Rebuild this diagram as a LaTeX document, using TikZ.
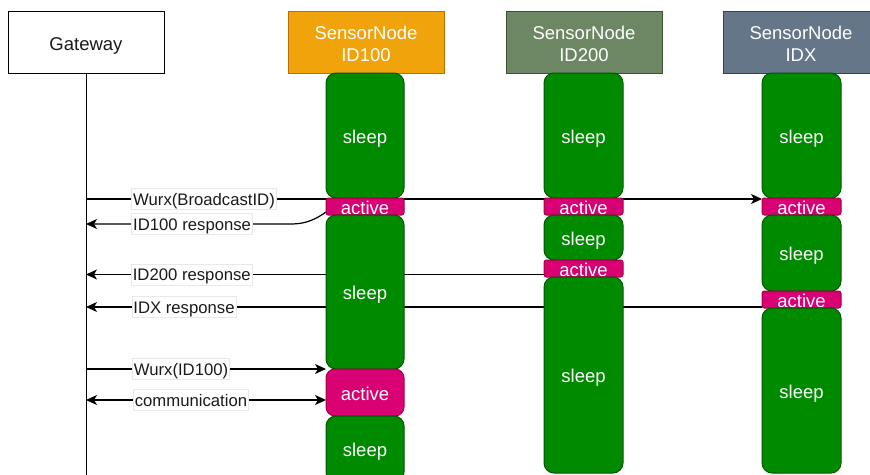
\documentclass[tikz,border=0pt]{standalone}
\usepackage{fontspec}
\setmainfont{Liberation Sans}
\usetikzlibrary{arrows.meta,backgrounds}
\definecolor{sleepfill}{HTML}{008A00}
\definecolor{sleepline}{HTML}{005700}
\definecolor{actfill}{HTML}{D80073}
\definecolor{actline}{HTML}{A50040}
\definecolor{orfill}{HTML}{F0A30A}
\definecolor{orline}{HTML}{BD7000}
\definecolor{olfill}{HTML}{6D8764}
\definecolor{olline}{HTML}{3A5431}
\definecolor{slfill}{HTML}{647687}
\definecolor{slline}{HTML}{314354}
\definecolor{labtext}{HTML}{1A1A1A}
\newcommand{\twolines}[2]{\raisebox{-8.3pt}[0pt][0pt]{\begin{tabular}{@{}c@{}}#1\\#2\end{tabular}}}
\tikzset{
  boxbase/.style={inner sep=0pt, outer sep=0pt, line width=1pt, align=center, font=\fontsize{18.5}{22.5}\selectfont},
  oneline/.style={text height=15pt, text depth=0pt},
  head/.style={boxbase, minimum width=156pt, minimum height=62pt, text=white},
  sleepbox/.style={boxbase, oneline, fill=sleepfill, draw=sleepline, text=white, rounded corners=10pt, minimum width=78pt},
  actbox/.style={boxbase, oneline, fill=actfill, draw=actline, text=white, rounded corners=2.5pt, minimum width=78pt},
  bigact/.style={actbox, rounded corners=9pt},
  msg/.style={line width=1.2pt, draw=black},
  tip/.style={-{Stealth[length=11pt,width=10pt,inset=3pt]}},
  dtip/.style={{Stealth[length=11pt,width=10pt,inset=3pt]}-{Stealth[length=11pt,width=10pt,inset=3pt]}},
  lbl/.style={fill=white, draw=gray!18, line width=0.6pt, inner xsep=1.5pt, inner ysep=2.5pt, text height=14pt, text depth=2pt, text=labtext, font=\fontsize{16.7}{19}\selectfont}
}
\begin{document}
\begin{tikzpicture}[x=1pt,y=-1pt]
\useasboundingbox (0,0) rectangle (870,474);
\clip (0,0) rectangle (870,474);
% headers
\node[head, text height=16.5pt, text depth=0pt, draw=black, fill=white, text=labtext] (gw) at (86,42) {Gateway};
\node[head, fill=orfill, draw=orline] (h1) at (366,42) {\twolines{SensorNode}{ID100}};
\node[head, fill=olfill, draw=olline] (h2) at (584,42) {\twolines{SensorNode}{ID200}};
\node[head, fill=slfill, draw=slline] (h3) at (801,42) {\twolines{SensorNode}{IDX}};
% ID100 column
\node[sleepbox, minimum height=125pt] (s1a) at (365,135.5) {sleep};
\node[actbox, minimum height=17pt] (a1a) at (365,206.5) {active};
\node[sleepbox, minimum height=154pt] (s2a) at (365,292) {sleep};
\node[bigact, minimum height=47pt] (a2a) at (365,392.5) {active};
\node[sleepbox, minimum height=66pt] (s3a) at (365,449) {sleep};
% ID200 column
\node[sleepbox, minimum width=79pt, minimum height=125pt] (s1b) at (583.5,135.5) {sleep};
\node[actbox, minimum width=79pt, minimum height=17pt] (a1b) at (583.5,206.5) {active};
\node[sleepbox, minimum width=79pt, minimum height=45pt] (s2b) at (583.5,237.5) {sleep};
\node[actbox, minimum width=79pt, minimum height=17pt] (a2b) at (583.5,268.5) {active};
\node[sleepbox, minimum width=79pt, minimum height=196pt] (s3b) at (583.5,375) {sleep};
% IDX column
\node[sleepbox, minimum width=79pt, minimum height=125pt] (s1c) at (801.5,135.5) {sleep};
\node[actbox, minimum width=79pt, minimum height=17pt] (a1c) at (801.5,206.5) {active};
\node[sleepbox, minimum width=79pt, minimum height=76pt] (s2c) at (801.5,253) {sleep};
\node[actbox, minimum width=79pt, minimum height=17pt] (a2c) at (801.5,299.5) {active};
\node[sleepbox, minimum width=79pt, minimum height=165pt] (s3c) at (801.5,390.5) {sleep};
% lifeline coordinates
\coordinate (gend) at (86,480);
\coordinate (g1) at (86,199);
\coordinate (g2) at (86,224);
\coordinate (g3) at (86,274.5);
\coordinate (g4) at (86,307);
\coordinate (g5) at (86,369);
\coordinate (g6) at (86,400);
\coordinate (c1) at (326,212);
\coordinate (c2) at (290,224);
\begin{scope}[on background layer]
\fill[white] (0,0) rectangle (870,474);
\draw[line width=1pt] (gw.south) -- (gend);
\draw[msg, tip] (g1) -- (a1c.west |- g1) node[lbl, pos=0.1746] {Wurx(BroadcastID)};
\draw[msg, tip] (c1) .. controls (312,222) and (302,224) .. (c2) -- (g2) node[lbl, pos=0.48] {ID100 response};
\draw[msg, tip] (a2b.west |- g3) -- (g3) node[lbl, pos=0.769] {ID200 response};
\draw[msg, tip] (a2c.west |- g4) -- (g4) node[lbl, pos=0.855] {IDX response};
\draw[msg, tip] (g5) -- (a2a.west |- g5) node[lbl, pos=0.396] {Wurx(ID100)};
\draw[msg, dtip] (g6) -- (a2a.west |- g6) node[lbl, pos=0.4375] {communication};
\end{scope}
\end{tikzpicture}
\end{document}
